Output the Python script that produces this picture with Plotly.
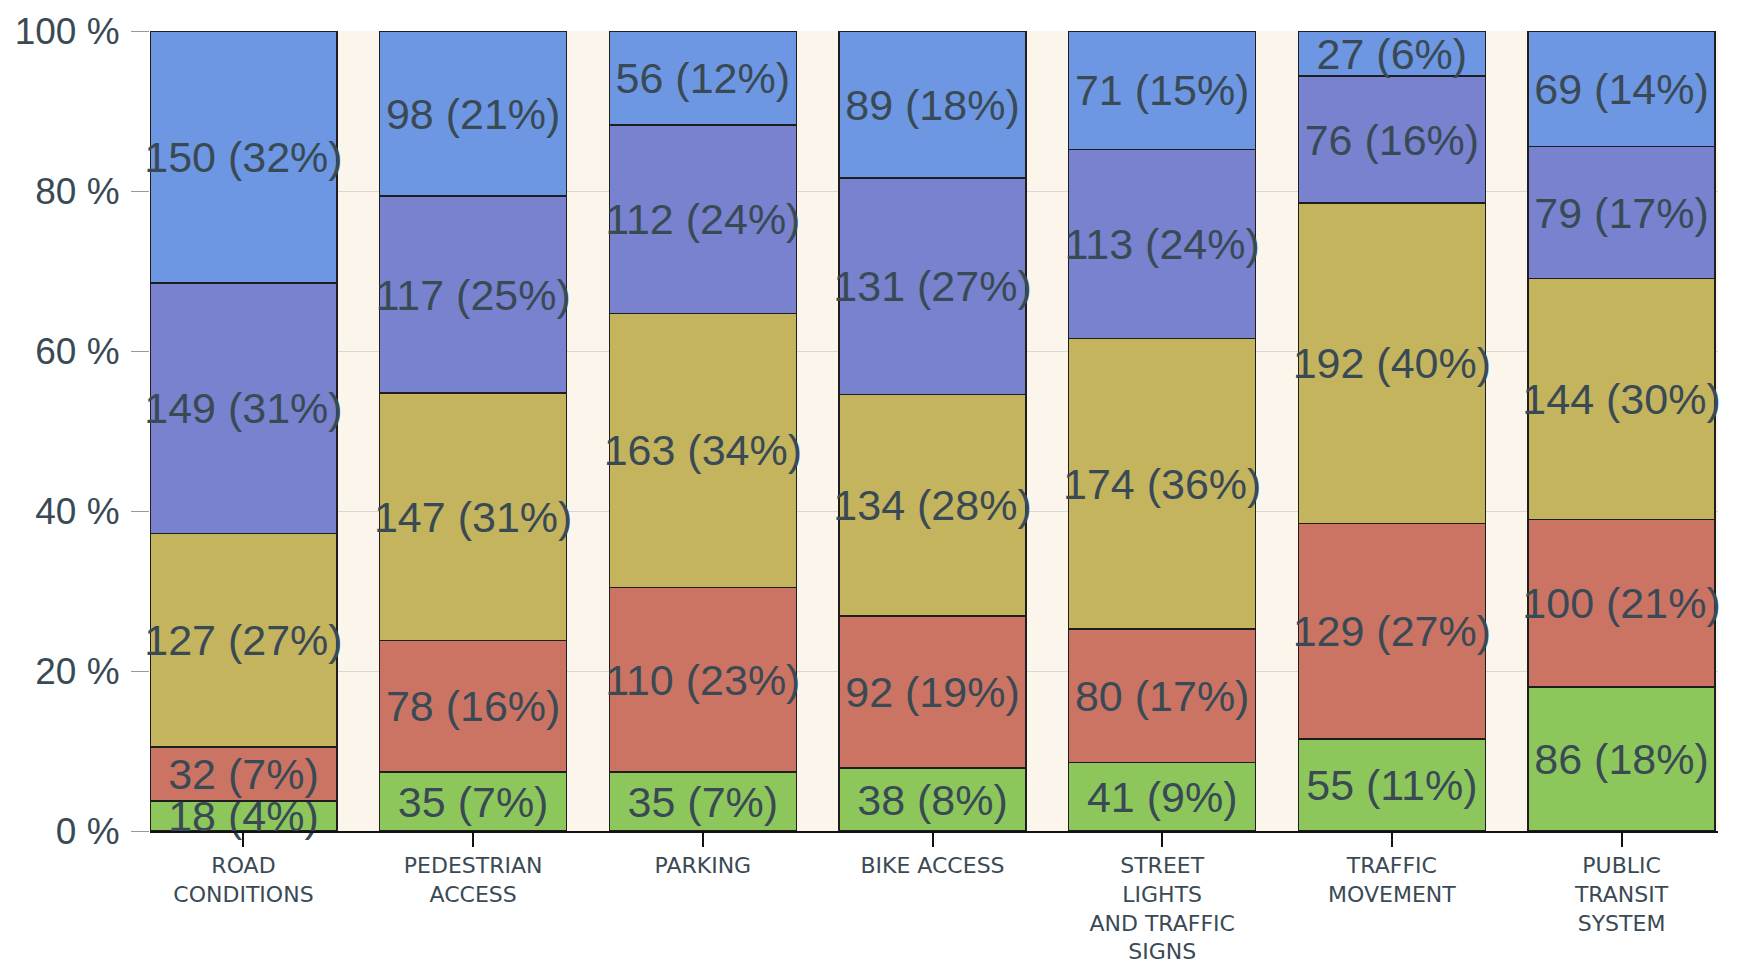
import plotly.graph_objects as go

categories = ['ROAD<br>CONDITIONS', 'PEDESTRIAN<br>ACCESS', 'PARKING', 'BIKE ACCESS',
              'STREET<br>LIGHTS<br>AND TRAFFIC<br>SIGNS', 'TRAFFIC<br>MOVEMENT',
              'PUBLIC<br>TRANSIT<br>SYSTEM']

# counts per category, bottom to top of each stack
green = [18, 35, 35, 38, 41, 55, 86]
red = [32, 78, 110, 92, 80, 129, 100]
yellow = [127, 147, 163, 134, 174, 192, 144]
purple = [149, 117, 112, 131, 113, 76, 79]
blue = [150, 98, 56, 89, 71, 27, 69]

y_ticks = [0, 20, 40, 60, 80, 100]
y_tick_text = ['0 %', '20 %', '40 %', '60 %', '80 %', '100 %']

series = [
    ('green', green, '#8dc75c'),
    ('red', red, '#cc7464'),
    ('yellow', yellow, '#c4b45e'),
    ('purple', purple, '#7882cf'),
    ('blue', blue, '#6d97e3'),
]

totals = [sum(v) for v in zip(green, red, yellow, purple, blue)]

fig = go.Figure()
for name, vals, col in series:
    labels = [f'{v} ({round(100 * v / t)}%)' for v, t in zip(vals, totals)]
    fig.add_trace(go.Bar(
        name=name, x=categories, y=vals, text=labels,
        marker=dict(color=col, line=dict(color='#1e1e1e', width=1.5)),
        width=0.814, textposition='inside', insidetextanchor='middle',
        textangle=0, constraintext='none', cliponaxis=False,
        textfont=dict(family='Liberation Sans, Arial', size=43, color='#3a4a55'),
    ))

fig.update_layout(
    barmode='stack', barnorm='percent',
    width=1744, height=964,
    margin=dict(l=150, r=26, t=31, b=133),
    paper_bgcolor='white', plot_bgcolor='#fcf5ec',
    showlegend=False,
    font=dict(family='Liberation Sans, Arial', color='#3a4a55'),
)
fig.update_xaxes(
    range=[-0.407, 6.42], automargin=False,
    showline=True, linecolor='#111', linewidth=2,
    ticks='outside', ticklen=14, tickcolor='#111', tickwidth=2,
    tickfont=dict(family='DejaVu Sans', size=22, color='#3a4a55'),
)
fig.update_yaxes(
    range=[0, 100], tickvals=y_ticks, ticktext=y_tick_text, automargin=False,
    ticks='outside', ticklen=18, tickcolor='#999', gridcolor='#d8d8d8',
    showline=False, zeroline=False, ticklabelstandoff=4,
    tickfont=dict(size=37, color='#3a4a55'),
)

# drop the default body margin so the figure fills the window
fig.write_html('out.html', config={'displayModeBar': False},
               post_script="document.body.style.margin='0';")
